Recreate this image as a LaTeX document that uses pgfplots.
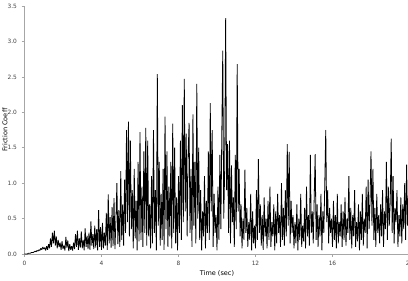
\documentclass[border=0pt]{standalone}
\usepackage{pgfplots}
\pgfplotsset{compat=1.18}
\usepackage{fontspec}
\setmainfont{DejaVu Sans}
\begin{document}
\begin{tikzpicture}
\begin{axis}[
  scale only axis,
  width=288.75pt, height=186pt,
  at={(0,0)}, anchor=south west,
  xmin=0, xmax=20, ymin=0, ymax=3.5,
  axis x line*=bottom, axis y line*=left,
  axis line style={gray!70, line width=0.6pt},
  xtick={0,4,8,12,16,20},
  ytick={0,0.5,1,1.5,2,2.5,3,3.5},
  yticklabel style={/pgf/number format/.cd, fixed, fixed zerofill, precision=1},
  /pgf/number format/assume math mode=true,
  tick align=outside, major tick length=2.2pt,
  tick style={gray!70, line width=0.5pt},
  tick label style={font=\fontsize{4.4pt}{5pt}\selectfont, text=black!75},
  xticklabel style={yshift=0.5pt},
  label style={font=\fontsize{4.9pt}{6pt}\selectfont},
  xlabel={Time (sec)},
  ylabel={Friction Coeff},
  xlabel style={at={(axis description cs:0.5,0)}, anchor=center, yshift=-14.3pt},
  ylabel style={at={(axis description cs:0,0.5)}, anchor=center, rotate=0, yshift=14.6pt},
  clip=false,
]
\addplot[black, line width=0.6pt, line join=bevel] table {
0.00 0.00
0.05 0.00
0.10 0.00
0.15 0.00
0.20 0.01
0.25 0.01
0.30 0.01
0.35 0.02
0.40 0.02
0.45 0.02
0.50 0.03
0.55 0.04
0.60 0.03
0.65 0.05
0.70 0.04
0.75 0.06
0.80 0.05
0.85 0.08
0.90 0.06
0.95 0.10
1.00 0.07
1.05 0.09
1.10 0.05
1.15 0.11
1.20 0.06
1.25 0.14
1.30 0.08
1.35 0.22
1.40 0.10
1.45 0.30
1.50 0.15
1.55 0.33
1.60 0.12
1.65 0.25
1.70 0.08
1.75 0.20
1.80 0.10
1.85 0.16
1.90 0.06
1.95 0.18
2.00 0.07
2.05 0.12
2.10 0.05
2.15 0.24
2.20 0.09
2.25 0.19
2.30 0.04
2.35 0.14
2.40 0.06
2.45 0.11
2.50 0.05
2.55 0.16
2.60 0.07
2.65 0.28
2.70 0.10
2.75 0.33
2.80 0.06
2.85 0.22
2.90 0.09
2.95 0.32
3.00 0.08
3.05 0.20
3.10 0.05
3.15 0.36
3.20 0.10
3.25 0.26
3.30 0.07
3.35 0.30
3.40 0.06
3.45 0.46
3.50 0.12
3.55 0.28
3.60 0.07
3.65 0.40
3.70 0.09
3.75 0.35
3.80 0.05
3.85 0.62
3.90 0.10
3.95 0.38
4.00 0.06
4.05 0.44
4.10 0.08
4.15 0.30
4.20 0.12
4.25 0.58
4.30 0.06
4.35 0.84
4.40 0.15
4.45 0.52
4.50 0.09
4.55 0.66
4.60 0.11
4.65 0.79
4.70 0.07
4.75 0.48
4.80 1.00
4.85 0.14
4.90 0.62
4.95 0.10
5.00 1.17
5.05 0.20
5.10 0.70
5.15 0.12
5.20 1.05
5.25 0.30
5.30 1.75
5.35 0.45
5.40 1.87
5.45 0.25
5.50 1.60
5.55 0.35
5.60 0.90
5.65 0.08
5.70 1.20
5.75 0.22
5.80 0.75
5.85 0.05
5.90 1.30
5.95 0.18
6.00 1.72
6.05 0.20
6.10 0.95
6.15 0.10
6.20 1.45
6.25 0.30
6.30 1.78
6.35 0.12
6.40 1.60
6.45 0.25
6.50 0.70
6.55 0.08
6.60 1.10
6.65 0.15
6.70 1.75
6.75 0.30
6.80 0.90
6.85 0.05
6.90 2.54
6.95 0.40
7.00 1.30
7.05 0.12
7.10 0.85
7.15 0.20
7.20 1.20
7.25 0.06
7.30 1.94
7.35 0.35
7.40 1.45
7.45 0.10
7.50 0.95
7.55 0.25
7.60 1.30
7.65 0.08
7.70 1.84
7.75 0.30
7.80 1.50
7.85 0.15
7.90 0.80
7.95 0.05
8.00 1.10
8.05 0.30
8.10 1.60
8.15 0.20
8.20 2.10
8.25 0.45
8.30 2.47
8.35 0.60
8.40 1.70
8.45 0.25
8.50 1.40
8.55 1.85
8.60 0.30
8.65 1.20
8.70 0.10
8.75 1.97
8.80 0.40
8.85 1.30
8.90 0.15
8.95 2.40
9.00 0.50
9.05 1.50
9.10 0.20
9.15 0.90
9.20 0.05
9.25 0.60
9.30 0.25
9.35 1.10
9.40 0.08
9.45 0.75
9.50 0.30
9.55 1.45
9.60 0.20
9.65 2.13
9.70 0.60
9.75 1.75
9.80 0.10
9.85 0.85
9.90 0.30
9.95 0.55
10.00 0.05
10.05 0.95
10.10 0.20
10.15 1.40
10.20 0.35
10.25 1.70
10.30 2.87
10.35 0.50
10.40 1.20
10.45 3.33
10.50 0.90
10.55 1.55
10.60 0.30
10.65 1.60
10.70 0.15
10.75 1.25
10.80 0.45
10.85 0.80
10.90 0.10
10.95 1.40
11.00 0.35
11.05 2.68
11.10 0.60
11.15 1.20
11.20 0.25
11.25 0.70
11.30 0.08
11.35 0.50
11.40 0.20
11.45 1.19
11.50 0.30
11.55 0.65
11.60 0.10
11.65 0.45
11.70 0.20
11.75 0.85
11.80 0.05
11.85 0.60
11.90 0.15
11.95 0.40
12.00 0.08
12.05 0.90
12.10 0.20
12.15 1.34
12.20 0.30
12.25 0.70
12.30 0.12
12.35 0.55
12.40 0.06
12.45 0.80
12.50 0.25
12.55 0.50
12.60 0.08
12.65 0.75
12.70 0.20
12.75 0.95
12.80 0.10
12.85 0.45
12.90 0.25
12.95 0.70
13.00 0.05
13.05 0.60
13.10 0.15
13.15 0.85
13.20 0.30
13.25 0.55
13.30 0.10
13.35 1.00
13.40 0.20
13.45 0.65
13.50 0.12
13.55 0.90
13.60 0.25
13.65 1.55
13.70 0.40
13.75 1.44
13.80 0.15
13.85 0.75
13.90 0.30
13.95 0.55
14.00 0.08
14.05 0.45
14.10 0.15
14.15 0.70
14.20 0.05
14.25 0.50
14.30 0.20
14.35 0.85
14.40 0.10
14.45 0.40
14.50 0.18
14.55 0.65
14.60 0.08
14.65 0.95
14.70 0.25
14.75 0.55
14.80 0.12
14.85 1.40
14.90 0.30
14.95 0.60
15.00 0.15
15.05 0.80
15.10 1.41
15.15 0.20
15.20 0.70
15.25 0.10
15.30 0.55
15.35 0.25
15.40 0.85
15.45 0.05
15.50 0.60
15.55 0.30
15.60 1.00
15.65 1.75
15.70 0.45
15.75 0.90
15.80 0.15
15.85 0.65
15.90 0.30
15.95 0.50
16.00 0.10
16.05 0.75
16.10 0.20
16.15 0.55
16.20 0.08
16.25 0.85
16.30 0.15
16.35 0.45
16.40 0.25
16.45 0.70
16.50 0.10
16.55 0.60
16.60 0.20
16.65 0.80
16.70 0.12
16.75 0.50
16.80 0.30
16.85 1.10
16.90 0.20
16.95 0.65
17.00 0.08
17.05 0.55
17.10 0.25
17.15 0.90
17.20 0.10
17.25 0.45
17.30 0.18
17.35 0.70
17.40 0.05
17.45 0.60
17.50 0.20
17.55 0.85
17.60 0.12
17.65 0.50
17.70 0.30
17.75 0.95
17.80 0.08
17.85 1.05
17.90 0.35
17.95 0.75
18.00 1.45
18.05 0.40
18.10 1.20
18.15 0.20
18.20 0.65
18.25 0.10
18.30 0.85
18.35 0.30
18.40 0.55
18.45 0.15
18.50 0.70
18.55 0.25
18.60 0.90
18.65 0.10
18.70 0.60
18.75 0.35
18.80 1.30
18.85 0.20
18.90 0.95
18.95 0.40
19.00 0.75
19.05 1.63
19.10 0.30
19.15 1.10
19.20 0.15
19.25 0.65
19.30 0.45
19.35 0.90
19.40 0.10
19.45 0.55
19.50 0.25
19.55 0.80
19.60 0.15
19.65 0.70
19.70 0.35
19.75 1.00
19.80 0.20
19.85 1.26
19.90 0.40
19.95 0.85
20.00 0.30
};
\end{axis}
\pgfresetboundingbox
\path[use as bounding box] (-18.375pt,-19.5pt) rectangle (287.625pt,190.5pt);
\end{tikzpicture}
\end{document}
